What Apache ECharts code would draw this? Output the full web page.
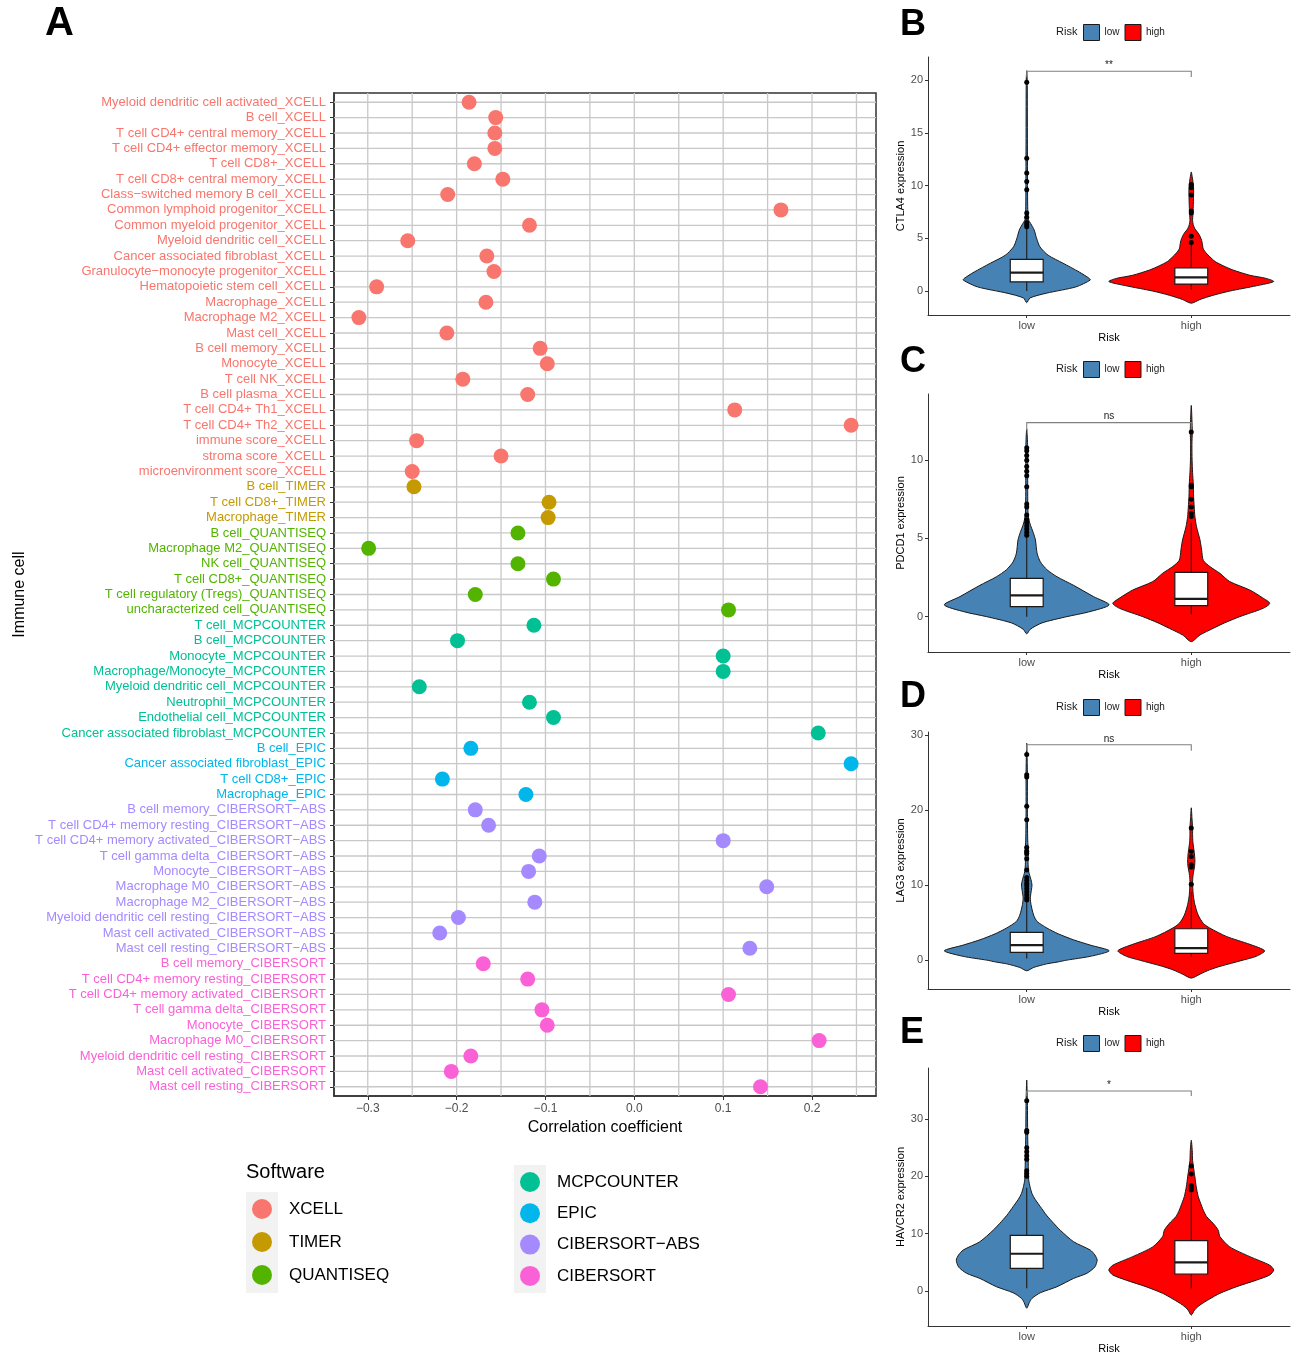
<!DOCTYPE html>
<html>
<head>
<meta charset="utf-8">
<script src="https://cdn.jsdelivr.net/npm/echarts@6/dist/echarts.min.js"></script>
<style>
  html, body { margin: 0; background: #fff; }
  #chart { width: 1298px; height: 1355px; }
</style>
</head>
<body>
<div id="chart"></div>
<script>
// ---- panel A data ----
const cellNames = [
  'Myeloid dendritic cell activated_XCELL', 'B cell_XCELL', 'T cell CD4+ central memory_XCELL',
  'T cell CD4+ effector memory_XCELL', 'T cell CD8+_XCELL', 'T cell CD8+ central memory_XCELL',
  'Class−switched memory B cell_XCELL', 'Common lymphoid progenitor_XCELL', 'Common myeloid progenitor_XCELL',
  'Myeloid dendritic cell_XCELL', 'Cancer associated fibroblast_XCELL', 'Granulocyte−monocyte progenitor_XCELL',
  'Hematopoietic stem cell_XCELL', 'Macrophage_XCELL', 'Macrophage M2_XCELL', 'Mast cell_XCELL',
  'B cell memory_XCELL', 'Monocyte_XCELL', 'T cell NK_XCELL', 'B cell plasma_XCELL',
  'T cell CD4+ Th1_XCELL', 'T cell CD4+ Th2_XCELL', 'immune score_XCELL', 'stroma score_XCELL',
  'microenvironment score_XCELL',
  'B cell_TIMER', 'T cell CD8+_TIMER', 'Macrophage_TIMER',
  'B cell_QUANTISEQ', 'Macrophage M2_QUANTISEQ', 'NK cell_QUANTISEQ', 'T cell CD8+_QUANTISEQ',
  'T cell regulatory (Tregs)_QUANTISEQ', 'uncharacterized cell_QUANTISEQ',
  'T cell_MCPCOUNTER', 'B cell_MCPCOUNTER', 'Monocyte_MCPCOUNTER', 'Macrophage/Monocyte_MCPCOUNTER',
  'Myeloid dendritic cell_MCPCOUNTER', 'Neutrophil_MCPCOUNTER', 'Endothelial cell_MCPCOUNTER',
  'Cancer associated fibroblast_MCPCOUNTER',
  'B cell_EPIC', 'Cancer associated fibroblast_EPIC', 'T cell CD8+_EPIC', 'Macrophage_EPIC',
  'B cell memory_CIBERSORT−ABS', 'T cell CD4+ memory resting_CIBERSORT−ABS',
  'T cell CD4+ memory activated_CIBERSORT−ABS', 'T cell gamma delta_CIBERSORT−ABS',
  'Monocyte_CIBERSORT−ABS', 'Macrophage M0_CIBERSORT−ABS', 'Macrophage M2_CIBERSORT−ABS',
  'Myeloid dendritic cell resting_CIBERSORT−ABS', 'Mast cell activated_CIBERSORT−ABS',
  'Mast cell resting_CIBERSORT−ABS',
  'B cell memory_CIBERSORT', 'T cell CD4+ memory resting_CIBERSORT', 'T cell CD4+ memory activated_CIBERSORT',
  'T cell gamma delta_CIBERSORT', 'Monocyte_CIBERSORT', 'Macrophage M0_CIBERSORT',
  'Myeloid dendritic cell resting_CIBERSORT', 'Mast cell activated_CIBERSORT', 'Mast cell resting_CIBERSORT'
];
const cellSoftware = [].concat(
  Array(25).fill('XCELL'), Array(3).fill('TIMER'), Array(6).fill('QUANTISEQ'),
  Array(8).fill('MCPCOUNTER'), Array(4).fill('EPIC'), Array(10).fill('CIBERSORT−ABS'),
  Array(9).fill('CIBERSORT')
);
const corrValues = [
  -0.186, -0.156, -0.157, -0.157, -0.180, -0.148, -0.210, 0.165, -0.118, -0.255,
  -0.166, -0.158, -0.290, -0.167, -0.310, -0.211, -0.106, -0.098, -0.193, -0.120,
  0.113, 0.244, -0.245, -0.150, -0.250,
  -0.248, -0.096, -0.097,
  -0.131, -0.299, -0.131, -0.091, -0.179, 0.106,
  -0.113, -0.199, 0.100, 0.100, -0.242, -0.118, -0.091, 0.207,
  -0.184, 0.244, -0.216, -0.122,
  -0.179, -0.164, 0.100, -0.107, -0.119, 0.149, -0.112, -0.198, -0.219, 0.130,
  -0.170, -0.120, 0.106, -0.104, -0.098, 0.208, -0.184, -0.206, 0.142
];
const softwareList = ['XCELL', 'TIMER', 'QUANTISEQ', 'MCPCOUNTER', 'EPIC', 'CIBERSORT−ABS', 'CIBERSORT'];
const softwareColors = ['#F8766D', '#C49A00', '#53B400', '#00C094', '#00B6EB', '#A58AFF', '#FB61D7'];
const corrTicks = [-0.3, -0.2, -0.1, 0, 0.1, 0.2];
const corrGridValues = [-0.3, -0.25, -0.2, -0.15, -0.1, -0.05, 0, 0.05, 0.1, 0.15, 0.2, 0.25];

// ---- panels B-E data ----
const riskGroups = ['low', 'high'];
const riskColors = ['#4682B4', '#FF0000'];
const genes = ['CTLA4', 'PDCD1', 'LAG3', 'HAVCR2'];
const geneTicks = [[0, 5, 10, 15, 20], [0, 5, 10], [0, 10, 20, 30], [0, 10, 20, 30]];
const geneRange = [[-2.27, 22.2], [-2.26, 14.23], [-3.85, 30.4], [-6.1, 38.9]];

// violin outline: [expression, half width as share of the category step]
const violinCTLA4Low = [[-1.1, 0], [-0.65, .02], [-0.2, .12], [0.4, .30], [1.04, .386], [1.2, .38], [1.8, .32],
  [2.65, .22], [3.4, .13], [4.2, .08], [5, .06], [5.8, .045], [6.4, .024], [6.8, .01], [8, .006], [10, .005],
  [15, .004], [20, .003], [20.9, 0]];
const violinCTLA4High = [[-1.15, 0], [-0.8, .053], [-0.4, .133], [0, .234], [0.5, .396], [0.9, .501], [1.2, .455],
  [1.5, .356], [2, .253], [2.4, .194], [2.8, .145], [3.25, .113], [3.6, .091], [4, .073], [4.5, .067], [4.8, .063],
  [5.2, .053], [5.5, .042], [5.9, .022], [6.3, .012], [6.7, .008], [7.3, .010], [8, .012], [9, .014], [9.8, .014],
  [10.4, .010], [11, .004], [11.3, 0]];
const violinPDCD1Low = [[-1.1, 0], [-0.8, .022], [-0.4, .093], [0, .244], [0.3, .376], [0.75, .501], [1.28, .406],
  [2, .285], [2.55, .184], [3, .123], [3.5, .083], [4.05, .063], [4.9, .053], [5.3, .042], [6, .018], [6.6, .008],
  [8, .006], [10, .006], [11, .005], [11.6, .003], [12, 0]];
const violinPDCD1High = [[-1.6, 0], [-1.17, .053], [-0.75, .133], [-0.4, .202], [0, .295], [0.53, .436], [0.85, .477],
  [1.2, .434], [1.7, .356], [2.24, .234], [2.77, .174], [3.2, .113], [3.6, .073], [4.26, .063], [4.9, .053],
  [5.75, .032], [6.4, .022], [7, .018], [7.7, .014], [8.5, .012], [9.2, .008], [10, .005], [11, .004], [11.8, .006],
  [12.6, .004], [13.5, 0]];
const violinLAG3Low = [[-1.42, 0], [-0.98, .042], [-0.5, .121], [-0.27, .184], [0, .244], [0.5, .386], [1.24, .501],
  [2, .386], [2.7, .285], [3.5, .192], [4.27, .123], [5.15, .063], [6, .042], [7.4, .026], [8.3, .022], [9.3, .028],
  [10, .032], [10.7, .026], [11.8, .012], [13, .008], [14.5, .010], [16, .006], [20, .004], [25, .004], [28.9, 0]];
const violinLAG3High = [[-2.4, 0], [-1.87, .053], [-1.3, .111], [-0.84, .174], [0, .315], [0.5, .394], [1.24, .446],
  [2.1, .356], [3.15, .214], [4.27, .113], [4.9, .073], [6, .042], [7.4, .022], [8.7, .012], [10.5, .008],
  [11.5, .012], [12.5, .020], [13.2, .022], [14, .020], [14.7, .016], [15.7, .010], [16.7, .008], [17.6, .008],
  [19, .004], [20.3, 0]];
const violinHAVCR2Low = [[-3, 0], [-2, .016], [-1.28, .032], [-0.3, .083], [0.75, .184], [2.2, .285], [3.1, .366],
  [4.2, .414], [5.4, .428], [6.3, .414], [7.15, .386], [8.6, .285], [10.6, .204], [11.8, .164], [13.2, .121],
  [14.7, .083], [16, .051], [17, .032], [18.2, .020], [19.4, .012], [21, .010], [24, .008], [27, .006], [30, .005],
  [33, .004], [36.8, 0]];
const violinHAVCR2High = [[-4.2, 0], [-3.3, .020], [-2.44, .053], [-1.4, .111], [-0.4, .174], [0.75, .275],
  [1.9, .396], [2.8, .477], [3.66, .501], [4.5, .477], [6, .356], [7.7, .234], [9.5, .174], [10.6, .164],
  [11.8, .133], [13, .093], [14.1, .073], [15.3, .057], [16.5, .042], [18.2, .030], [19.9, .022], [21.5, .014],
  [22.8, .008], [24.5, .006], [26.3, 0]];

// box: [lower whisker, Q1, median, Q3, upper whisker] for low, high
const boxCTLA4 = [[0.0, 0.88, 1.74, 3.0, 5.9], [0.15, 0.66, 1.3, 2.2, 4.4]];
const boxPDCD1 = [[0.0, 0.64, 1.36, 2.45, 5.1], [0.15, 0.7, 1.13, 2.83, 6.0]];
const boxLAG3 = [[0.2, 1.02, 2.0, 3.69, 7.7], [0.4, 0.9, 1.6, 4.18, 9.1]];
const boxHAVCR2 = [[0.5, 3.95, 6.5, 9.7, 18.0], [0.5, 2.97, 5.0, 8.78, 17.0]];

const outCTLA4 = [[6.1, 6.3, 6.5, 7.0, 7.4, 9.6, 10.4, 11.2, 12.6, 19.8], [4.6, 5.2, 7.4, 7.6, 9.1, 9.8, 10.1]];
const outPDCD1 = [[5.2, 5.4, 5.6, 5.8, 6.0, 6.2, 6.5, 7.0, 7.2, 8.3, 9.0, 9.3, 9.6, 10.0, 10.3, 10.6, 10.8],
  [6.4, 6.6, 7.0, 7.5, 8.3, 8.4, 11.8]];
const outLAG3 = [[8.0, 8.3, 8.7, 9.1, 9.5, 9.9, 10.2, 10.6, 11.0, 12.0, 13.5, 14.2, 14.5, 15.0, 18.7, 20.5, 24.4, 24.7, 27.4],
  [10.1, 12.4, 12.7, 13.8, 14.5, 17.6]];
const outHAVCR2 = [[20.0, 20.5, 21.0, 23.0, 23.6, 24.3, 25.0, 27.7, 28.0, 33.2], [17.6, 18.0, 18.4, 20.4, 21.8]];

// significance bracket: [bar height, tip end], label
const sigBars = [[20.85, 20.3], [12.4, 11.9], [28.7, 27.9], [34.9, 34.0]];
const sigLabels = ['**', 'ns', 'ns', '*'];

const violins = [[violinCTLA4Low, violinCTLA4High], [violinPDCD1Low, violinPDCD1High],
  [violinLAG3Low, violinLAG3High], [violinHAVCR2Low, violinHAVCR2High]];
const boxes = [boxCTLA4, boxPDCD1, boxLAG3, boxHAVCR2];
const outliers = [outCTLA4, outPDCD1, outLAG3, outHAVCR2];

const FONT = '"Liberation Sans", Arial, sans-serif';
const panelTops = [57, 394, 732, 1068];
const panelHeights = [258, 258, 257, 258];
const letterTops = [7, 344, 679, 1015];
const legendCenters = [32, 369, 707, 1043];

const chart = echarts.init(document.getElementById('chart'));

const cellIndex = cellNames.map((n, i) => i);
const colorOfIndex = i => softwareColors[softwareList.indexOf(cellSoftware[i])];
const minus = v => (v < 0 ? '−' : '') + Math.abs(v).toFixed(1);

function violinRenderer(profile, fill) {
  return function (params, api) {
    const cat = api.value(0);
    const step = api.size([1, 0])[0];
    const pts = [];
    profile.forEach(p => {
      const c = api.coord([cat, p[0]]);
      pts.push([c[0] + p[1] * step, c[1]]);
    });
    for (let i = profile.length - 2; i >= 1; i--) {
      const c = api.coord([cat, profile[i][0]]);
      pts.push([c[0] - profile[i][1] * step, c[1]]);
    }
    return {
      type: 'polygon',
      shape: { points: pts, smooth: 0.25 },
      style: { fill: fill, stroke: '#1a1a1a', lineWidth: 1 }
    };
  };
}

function boxRenderer(params, api) {
  const cat = api.value(0);
  const step = api.size([1, 0])[0];
  const half = step * 0.1;
  const lo = api.coord([cat, api.value(1)]);
  const q1 = api.coord([cat, api.value(2)]);
  const md = api.coord([cat, api.value(3)]);
  const q3 = api.coord([cat, api.value(4)]);
  const hi = api.coord([cat, api.value(5)]);
  const x = lo[0];
  const ink = { stroke: '#1a1a1a', lineWidth: 1.1 };
  return {
    type: 'group',
    children: [
      { type: 'line', shape: { x1: x, y1: lo[1], x2: x, y2: q1[1] }, style: ink },
      { type: 'line', shape: { x1: x, y1: q3[1], x2: x, y2: hi[1] }, style: ink },
      { type: 'rect', shape: { x: x - half, y: q3[1], width: 2 * half, height: q1[1] - q3[1] },
        style: { fill: '#fff', stroke: '#1a1a1a', lineWidth: 1.2 } },
      { type: 'line', shape: { x1: x - half, y1: md[1], x2: x + half, y2: md[1] },
        style: { stroke: '#1a1a1a', lineWidth: 2.2 } }
    ]
  };
}

function bracketRenderer(label) {
  return function (params, api) {
    const bar = api.value(1), tip = api.value(2);
    const a = api.coord([0, bar]), b = api.coord([1, bar]);
    const at = api.coord([0, tip]), bt = api.coord([1, tip]);
    return {
      type: 'group',
      children: [
        { type: 'polyline', shape: { points: [at, a, b, bt] }, style: { fill: 'none', stroke: '#808080', lineWidth: 1.1 } },
        { type: 'text', x: (a[0] + b[0]) / 2, y: a[1] - 1,
          style: { text: label, fill: '#1a1a1a', fontSize: 10, fontFamily: FONT, align: 'center', verticalAlign: 'bottom' } }
      ]
    };
  };
}

const grid = [{ left: 334, top: 93, width: 542, height: 1003, show: true, borderColor: '#333', borderWidth: 1.5, backgroundColor: '#fff' }];
const xAxis = [{
  type: 'value', gridIndex: 0, min: -0.338, max: 0.272,
  axisLine: { show: true, onZero: false, lineStyle: { color: '#333', width: 1.5 } },
  axisTick: { show: true, length: 4, lineStyle: { color: '#333' }, customValues: corrTicks },
  axisLabel: { customValues: corrTicks, formatter: minus, color: '#4D4D4D', fontSize: 12, margin: 7, fontFamily: FONT },
  splitLine: { show: false },
  name: 'Correlation coefficient', nameLocation: 'middle', nameGap: 23,
  nameTextStyle: { fontSize: 16, color: '#000', fontFamily: FONT }
}];
const yAxis = [{
  type: 'value', gridIndex: 0, min: -0.6, max: cellNames.length - 0.4, inverse: true,
  axisLine: { show: true, onZero: false, lineStyle: { color: '#333', width: 1.5 } },
  axisTick: { show: true, length: 4, lineStyle: { color: '#333' }, customValues: cellIndex },
  axisLabel: {
    customValues: cellIndex, fontSize: 13, margin: 8, fontFamily: FONT,
    formatter: v => cellNames[Math.round(v)],
    color: v => colorOfIndex(Math.round(Number(v)))
  },
  splitLine: { show: false },
  name: 'Immune cell', nameLocation: 'middle', nameGap: 306,
  nameTextStyle: { fontSize: 16, color: '#000', fontFamily: FONT }
}];

const series = [
  {
    type: 'custom', name: 'vgrid', xAxisIndex: 0, yAxisIndex: 0, z: 1, silent: true,
    data: corrGridValues.map(v => [v, 0]),
    renderItem: (params, api) => {
      const cs = params.coordSys;
      const x = api.coord([api.value(0), 0])[0];
      return { type: 'line', shape: { x1: x, y1: cs.y, x2: x, y2: cs.y + cs.height }, style: { stroke: '#C8C8C8', lineWidth: 1.3 } };
    }
  },
  {
    type: 'custom', name: 'hgrid', xAxisIndex: 0, yAxisIndex: 0, z: 1, silent: true,
    data: cellIndex.map(i => [0, i]),
    renderItem: (params, api) => {
      const cs = params.coordSys;
      const y = api.coord([0, api.value(1)])[1];
      return { type: 'line', shape: { x1: cs.x, y1: y, x2: cs.x + cs.width, y2: y }, style: { stroke: '#C8C8C8', lineWidth: 1.3 } };
    }
  }
];

softwareList.forEach((sw, k) => {
  series.push({
    type: 'scatter', name: sw, xAxisIndex: 0, yAxisIndex: 0, z: 3,
    symbol: 'circle', symbolSize: 15,
    itemStyle: { color: softwareColors[k], opacity: 1 },
    data: cellIndex.filter(i => cellSoftware[i] === sw).map(i => [corrValues[i], i])
  });
});

const legends = [
  {
    data: softwareList.slice(0, 3), orient: 'vertical', left: 252, top: 1199, padding: 0,
    icon: 'circle', itemWidth: 20, itemHeight: 20, itemGap: 13, selectedMode: false,
    formatter: '{t|{name}}',
    textStyle: { rich: { t: { fontSize: 17, color: '#000', fontFamily: FONT, padding: [0, 0, 0, 12] } } }
  },
  {
    data: softwareList.slice(3), orient: 'vertical', left: 520, top: 1172, padding: 0,
    icon: 'circle', itemWidth: 20, itemHeight: 20, itemGap: 11.3, selectedMode: false,
    formatter: '{t|{name}}',
    textStyle: { rich: { t: { fontSize: 17, color: '#000', fontFamily: FONT, padding: [0, 0, 0, 12] } } }
  }
];

const titles = [
  { text: 'A', left: 45, top: 4, padding: 0, textStyle: { fontSize: 40, fontWeight: 'bold', color: '#000', fontFamily: FONT } },
  { text: 'Software', left: 246, top: 1162, padding: 0, textStyle: { fontSize: 20, fontWeight: 'normal', color: '#000', fontFamily: FONT } }
];

genes.forEach((gene, p) => {
  const gi = p + 1;
  grid.push({ left: 928, top: panelTops[p], width: 362, height: panelHeights[p] });
  xAxis.push({
    type: 'value', gridIndex: gi, min: -0.6, max: 1.6,
    axisLine: { show: true, onZero: false, lineStyle: { color: '#333', width: 1 } },
    axisTick: { show: true, length: 3, lineStyle: { color: '#333' }, customValues: [0, 1] },
    axisLabel: { customValues: [0, 1], formatter: v => riskGroups[Math.round(v)], fontSize: 11, color: '#4D4D4D', margin: 5, fontFamily: FONT },
    splitLine: { show: false },
    name: 'Risk', nameLocation: 'middle', nameGap: 17,
    nameTextStyle: { fontSize: 11, color: '#000', fontFamily: FONT }
  });
  yAxis.push({
    type: 'value', gridIndex: gi, min: geneRange[p][0], max: geneRange[p][1],
    axisLine: { show: true, onZero: false, lineStyle: { color: '#333', width: 1 } },
    axisTick: { show: true, length: 3, lineStyle: { color: '#333' }, customValues: geneTicks[p] },
    axisLabel: { customValues: geneTicks[p], fontSize: 11, color: '#4D4D4D', margin: 5, fontFamily: FONT },
    splitLine: { show: false },
    name: gene + ' expression', nameLocation: 'middle', nameGap: 20,
    nameTextStyle: { fontSize: 11, color: '#000', fontFamily: FONT }
  });
  riskGroups.forEach((g, k) => {
    series.push({
      type: 'custom', name: g, xAxisIndex: gi, yAxisIndex: gi, z: 2, silent: true,
      itemStyle: { color: riskColors[k], borderColor: '#1a1a1a', borderWidth: 1 },
      data: [[k, 0]],
      renderItem: violinRenderer(violins[p][k], riskColors[k])
    });
  });
  series.push({
    type: 'custom', name: 'box' + gene, xAxisIndex: gi, yAxisIndex: gi, z: 3, silent: true,
    encode: { x: 0, y: [1, 2, 3, 4, 5] },
    data: boxes[p].map((b, k) => [k].concat(b)),
    renderItem: boxRenderer
  });
  series.push({
    type: 'scatter', name: 'outlier' + gene, xAxisIndex: gi, yAxisIndex: gi, z: 4, silent: true,
    symbolSize: 5, itemStyle: { color: '#000', opacity: 1 },
    data: outliers[p][0].map(v => [0, v]).concat(outliers[p][1].map(v => [1, v]))
  });
  series.push({
    type: 'custom', name: 'sig' + gene, xAxisIndex: gi, yAxisIndex: gi, z: 3, silent: true,
    encode: { x: 0, y: [1, 2] },
    data: [[0, sigBars[p][0], sigBars[p][1]]],
    renderItem: bracketRenderer(sigLabels[p])
  });
  legends.push({
    data: riskGroups, left: 1083, top: legendCenters[p] - 8, padding: 0, icon: 'rect',
    itemWidth: 16, itemHeight: 16, itemGap: 5, selectedMode: false,
    itemStyle: { borderColor: '#1a1a1a', borderWidth: 1 },
    textStyle: { fontSize: 10, color: '#1a1a1a', fontFamily: FONT }
  });
  titles.push({ text: 'BCDE'[p], left: 900, top: letterTops[p], padding: 0,
    textStyle: { fontSize: 36, fontWeight: 'bold', color: '#000', fontFamily: FONT } });
  titles.push({ text: 'Risk', left: 1056, top: legendCenters[p] - 6, padding: 0,
    textStyle: { fontSize: 11, fontWeight: 'normal', color: '#1a1a1a', fontFamily: FONT } });
});

chart.setOption({
  animation: false,
  backgroundColor: '#fff',
  textStyle: { fontFamily: FONT },
  title: titles,
  legend: legends,
  grid: grid,
  xAxis: xAxis,
  yAxis: yAxis,
  graphic: [
    { type: 'rect', left: 246, top: 1192, shape: { width: 32, height: 101 }, style: { fill: '#F2F2F2' }, z: -1 },
    { type: 'rect', left: 514, top: 1165, shape: { width: 32, height: 128 }, style: { fill: '#F2F2F2' }, z: -1 }
  ],
  series: series
});
</script>
</body>
</html>
